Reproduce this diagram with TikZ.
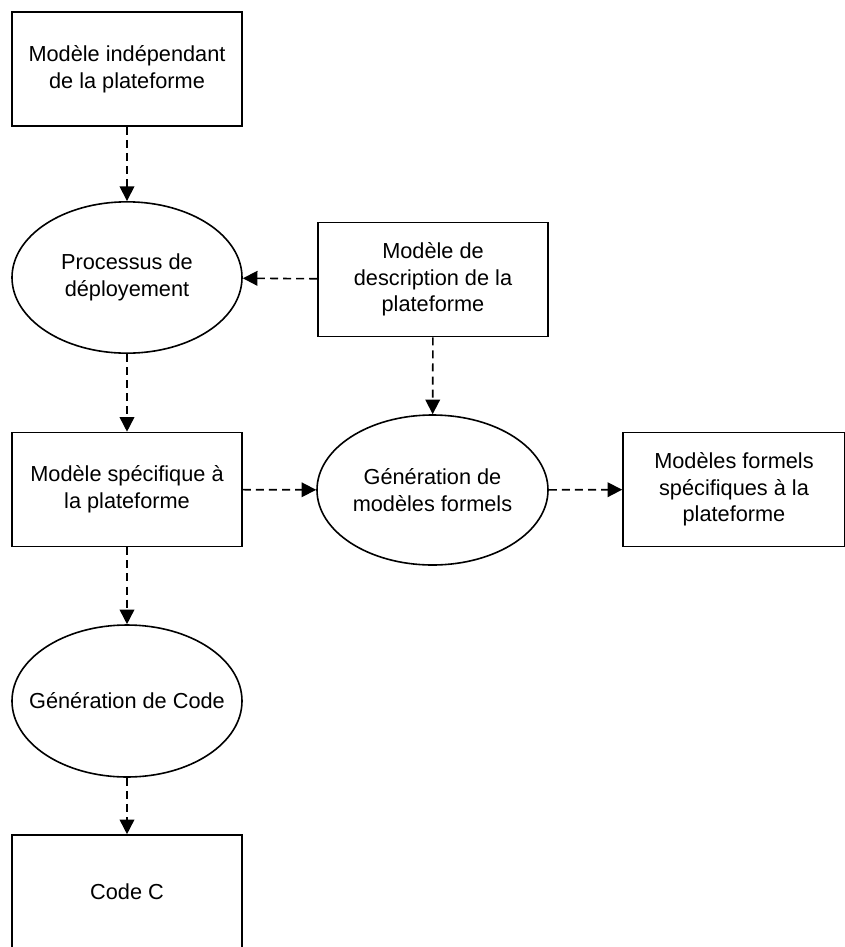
\documentclass[tikz,border=0pt]{standalone}
\usepackage{fontspec}
\setmainfont{Liberation Sans}
\usetikzlibrary{arrows.meta,shapes.geometric}
\tikzset{
  box/.style={draw, line width=1.2pt, rectangle, align=center, inner sep=0pt,
    minimum width=172.5pt, minimum height=85.5pt},
  proc/.style={draw, line width=1.2pt, ellipse, align=center, inner sep=0pt,
    minimum width=172.5pt, minimum height=113.5pt},
  flow/.style={-{Triangle[length=11pt,width=11pt]}, line width=1.2pt,
    dash pattern=on 6pt off 3.8pt}
}
\begin{document}
\begin{tikzpicture}[x=0.75pt,y=-0.75pt,font=\fontsize{16.3}{20}\selectfont]
      \useasboundingbox (0,0) rectangle (845,947);
      \node[box] (pim) at (127,69) {Modèle indépendant\\de la plateforme};
      \node[proc] (deploy) at (127,277.5) {Processus de\\déployement};
      \node[box] (pdm) at (433,279.5) {Modèle de\\description de la\\plateforme};
      \node[box] (psm) at (127,489.5) {Modèle spécifique à\\la plateforme};
      \node[proc, minimum width=173.25pt, minimum height=112.5pt] (genform) at (432.5,490) {Génération de\\modèles formels};
      \node[box, minimum width=166.5pt] (formels) at (734,489.5) {Modèles formels\\spécifiques à la\\plateforme};
      \node[proc, minimum height=114pt, inner xsep=-20pt] (gencode) at (127,701) {Génération de Code};
      \node[box] (codec) at (127,892) {Code C};
      \begin{scope}[flow]
        \draw (pim) to (deploy);
        \draw (pdm) to (deploy);
        \draw (deploy) to (psm);
        \draw (pdm) to (genform);
        \draw (psm) to (genform);
        \draw (genform) to (formels);
        \draw (psm) to (gencode);
        \draw (gencode) to (codec);
      \end{scope}
    \end{tikzpicture}
\end{document}
